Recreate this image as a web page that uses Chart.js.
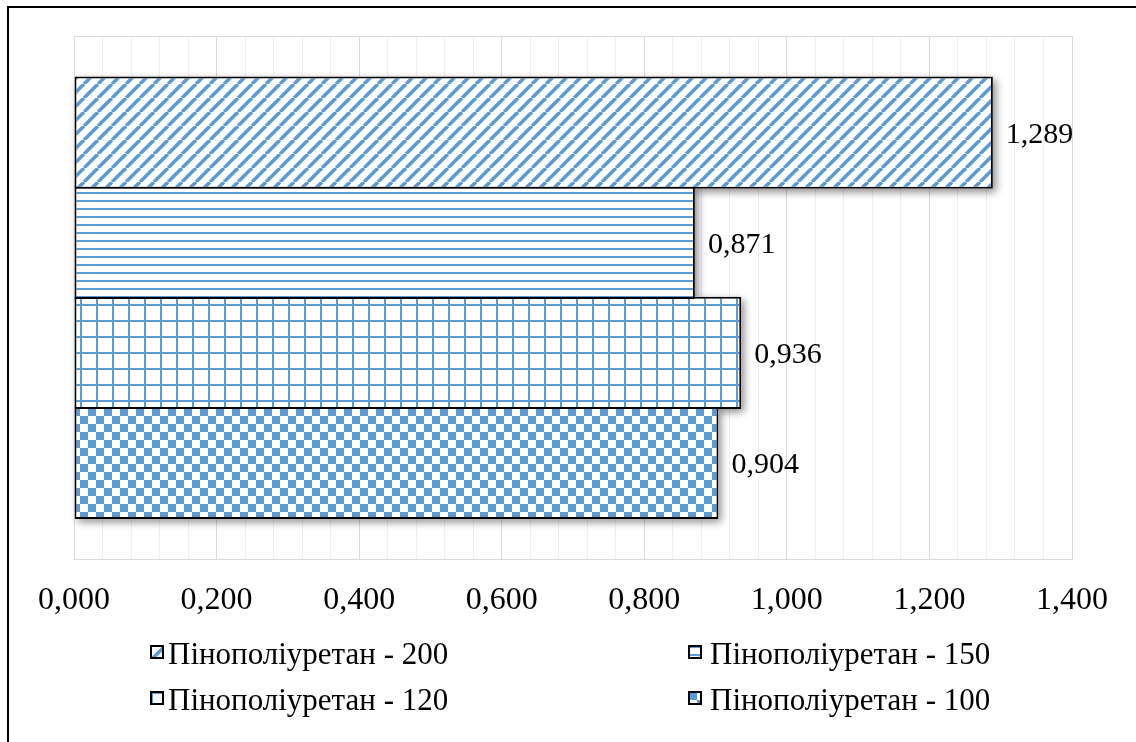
<!DOCTYPE html>
<html>
<head>
<meta charset="utf-8">
<script src="https://cdn.jsdelivr.net/npm/chart.js@4.4.1/dist/chart.umd.min.js"></script>
<style>
  html, body { margin: 0; padding: 0; background: #fff; overflow: hidden; width: 1136px; height: 742px; }
  #frame { position: absolute; left: 7px; top: 6px; width: 1200px; height: 800px; border: 2px solid #000; box-sizing: border-box; }
  #c { position: absolute; left: 0; top: 0; }
</style>
</head>
<body>
<div id="frame"></div>
<canvas id="c" width="1136" height="742"></canvas>
<script>
// Series (top to bottom) and their values
const seriesNames = ['Пінополіуретан - 200', 'Пінополіуретан - 150', 'Пінополіуретан - 120', 'Пінополіуретан - 100'];
const seriesValues = [1.289, 0.871, 0.936, 0.904];
const seriesPatterns = ['diagonal', 'horizontal', 'grid', 'checker'];
const categories = [''];

// Value axis
const axisMin = 0;
const axisMax = 1.4;
const minorStep = 0.04;
const majorTicks = [0, 0.2, 0.4, 0.6, 0.8, 1.0, 1.2, 1.4];
const tickLabels = ['0,000', '0,200', '0,400', '0,600', '0,800', '1,000', '1,200', '1,400'];

const BLUE = '#5b9bd5';
const FONT = "'Liberation Serif', 'Times New Roman', serif";

function makePattern(kind) {
  const t = document.createElement('canvas');
  const size = kind === 'diagonal' ? 14 : kind === 'horizontal' ? 8 : 16;
  t.width = size; t.height = size;
  const g = t.getContext('2d');
  g.fillStyle = '#fff';
  g.fillRect(0, 0, size, size);
  g.fillStyle = BLUE;
  g.strokeStyle = BLUE;
  if (kind === 'diagonal') {
    g.lineWidth = 3.6;
    for (let k = -1; k <= 1; k++) {
      g.beginPath();
      g.moveTo(k * size, size);
      g.lineTo(k * size + size, 0);
      g.stroke();
    }
  } else if (kind === 'horizontal') {
    g.fillRect(0, 0, size, 2);
  } else if (kind === 'grid') {
    g.fillRect(0, 0, size, 2);
    g.fillRect(0, 0, 2, size);
  } else if (kind === 'checker') {
    g.fillRect(0, 0, size / 2, size / 2);
    g.fillRect(size / 2, size / 2, size / 2, size / 2);
  }
  return document.getElementById('c').getContext('2d').createPattern(t, 'repeat');
}

const patterns = seriesPatterns.map(makePattern);

function isMajor(v) {
  return majorTicks.some(m => Math.abs(m - v) < 1e-9);
}
function formatValue(v) {
  return v.toFixed(3).replace('.', ',');
}

// Soft drop shadow behind every bar
const barShadow = {
  id: 'barShadow',
  beforeDatasetsDraw(chart) {
    const ctx = chart.ctx;
    ctx.save();
    ctx.shadowColor = 'rgba(0,0,0,0.45)';
    ctx.shadowBlur = 8;
    ctx.shadowOffsetX = 3;
    ctx.shadowOffsetY = 3;
    ctx.fillStyle = '#fff';
    chart.data.datasets.forEach((ds, i) => {
      chart.getDatasetMeta(i).data.forEach(bar => {
        const p = bar.getProps(['x', 'y', 'base', 'height'], true);
        ctx.fillRect(p.base, p.y - p.height / 2, p.x - p.base, p.height);
      });
    });
    ctx.restore();
  }
};

// Value labels to the right of each bar
const valueLabels = {
  id: 'valueLabels',
  afterDatasetsDraw(chart) {
    const ctx = chart.ctx;
    ctx.save();
    ctx.font = '30px ' + FONT;
    ctx.fillStyle = '#000';
    ctx.textAlign = 'left';
    ctx.textBaseline = 'middle';
    chart.data.datasets.forEach((ds, i) => {
      chart.getDatasetMeta(i).data.forEach((bar, j) => {
        const p = bar.getProps(['x', 'y'], true);
        ctx.fillText(formatValue(ds.data[j]), p.x + 13, p.y + 2);
      });
    });
    ctx.restore();
  }
};

// Two-column legend under the axis
const patternLegend = {
  id: 'patternLegend',
  afterDraw(chart) {
    const ctx = chart.ctx;
    const cols = [{ box: 151, text: 168 }, { box: 689, text: 710 }];
    const rows = [{ box: 646, base: 664 }, { box: 692, base: 710 }];
    const boxSize = 12;
    ctx.save();
    ctx.font = '31px ' + FONT;
    ctx.fillStyle = '#000';
    ctx.textBaseline = 'alphabetic';
    chart.data.datasets.forEach((ds, i) => {
      const c = cols[i % 2], r = rows[Math.floor(i / 2)];
      ctx.save();
      ctx.translate(c.box, r.box);
      ctx.fillStyle = ds.backgroundColor;
      ctx.fillRect(0, 0, boxSize, boxSize);
      ctx.restore();
      ctx.lineWidth = 2;
      ctx.strokeStyle = '#000';
      ctx.strokeRect(c.box, r.box, boxSize, boxSize);
      ctx.fillStyle = '#000';
      ctx.fillText(ds.label, c.text, r.base);
    });
    ctx.restore();
  }
};

new Chart(document.getElementById('c'), {
  type: 'bar',
  data: {
    labels: categories,
    datasets: seriesNames.map((name, i) => ({
      label: name,
      data: [seriesValues[i]],
      backgroundColor: patterns[i],
      borderColor: '#000',
      borderWidth: 2,
      borderSkipped: false,
      categoryPercentage: 0.841,
      barPercentage: 1.02
    }))
  },
  options: {
    indexAxis: 'y',
    responsive: false,
    animation: false,
    events: [],
    layout: { padding: { left: 74, right: 64, top: 36, bottom: 100 } },
    plugins: { legend: { display: false }, tooltip: { enabled: false } },
    scales: {
      x: {
        min: axisMin,
        max: axisMax,
        afterBuildTicks(axis) {
          const n = Math.round((axisMax - axisMin) / minorStep);
          const ticks = [];
          for (let i = 0; i <= n; i++) ticks.push({ value: +(axisMin + i * minorStep).toFixed(4) });
          axis.ticks = ticks;
        },
        border: { display: false },
        grid: {
          drawTicks: false,
          lineWidth: 1,
          color: ctx => (ctx.tick && isMajor(ctx.tick.value)) ? '#d9d9d9' : '#eeeeee'
        },
        ticks: {
          autoSkip: false,
          maxRotation: 0,
          minRotation: 0,
          padding: 22,
          color: '#000',
          font: { family: FONT, size: 32 },
          callback(value) {
            const idx = majorTicks.findIndex(m => Math.abs(m - value) < 1e-9);
            return idx >= 0 ? tickLabels[idx] : '';
          }
        }
      },
      y: {
        border: { display: false },
        grid: { drawTicks: false, color: '#d9d9d9', offset: true },
        ticks: { display: false }
      }
    }
  },
  plugins: [barShadow, valueLabels, patternLegend]
});
</script>
</body>
</html>
